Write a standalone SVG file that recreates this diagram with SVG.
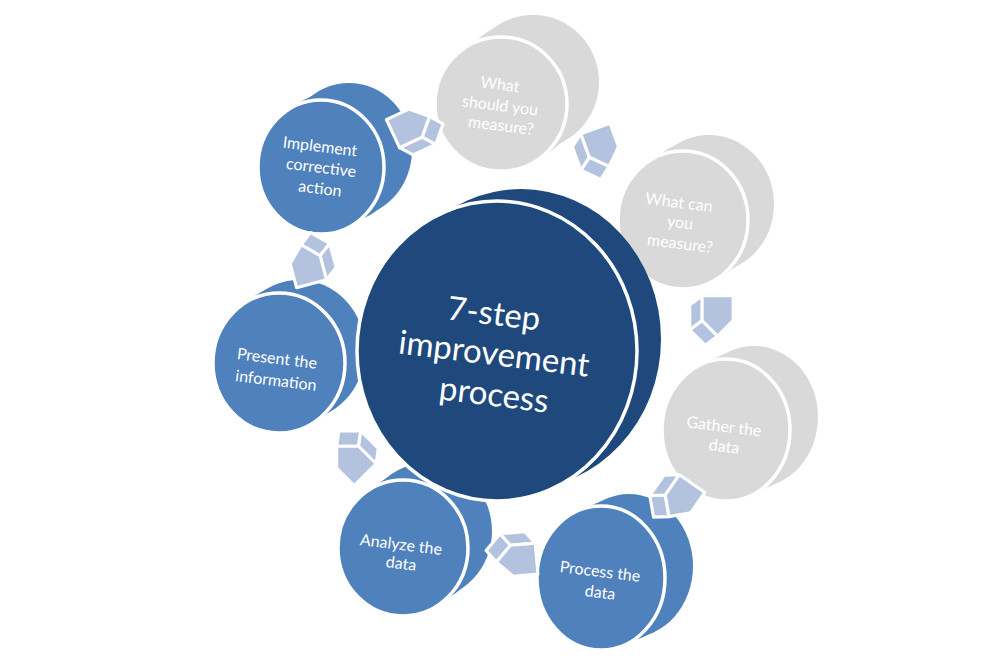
<svg xmlns="http://www.w3.org/2000/svg" xmlns:xlink="http://www.w3.org/1999/xlink" width="1000" height="669" viewBox="0 0 1000 669">
<style>
.blue{fill:#4F81BD}
.gray{fill:#D9D9D9}
.dark{fill:#1F497D}
.front{stroke:#FFFFFF;stroke-width:3.5}
.t{font-family:Lato,"Open Sans",sans-serif;fill:#FFFFFF;text-anchor:middle}
.s{font-size:16px}
.b{font-size:33px}
.af{fill:#B3C2DE;stroke:#FFFFFF;stroke-width:2;stroke-linejoin:round}
</style>
<defs>
<g id="arr" transform="translate(-3,1)">
<polygon class="af" points="0,-12 8,-18 18,-8 10,-2"/>
<polygon class="af" points="10,-2 18,-8 18,8 10,14"/>
<polygon class="af" points="-10,14 -10,-2 0,-12 10,-2 10,14"/>
</g>
</defs>
<rect width="1000" height="669" fill="#FFFFFF"/>

<g id="n1" class="gray">
<ellipse cx="533" cy="82" rx="66" ry="67"/>
<ellipse cx="522" cy="89" rx="66" ry="67"/>
<ellipse cx="512" cy="97" rx="66" ry="67"/>
<ellipse class="front" cx="501" cy="104" rx="66" ry="67"/>
<text class="t s" x="500" y="90" transform="rotate(7 500 85)">What</text>
<text class="t s" x="500" y="111" transform="rotate(7 500 106)">should you</text>
<text class="t s" x="501" y="131" transform="rotate(7 501 126)">measure?</text>
</g>

<g id="n2" class="gray">
<ellipse cx="709" cy="204" rx="65" ry="69"/>
<ellipse cx="700" cy="209" rx="65" ry="69"/>
<ellipse cx="692" cy="215" rx="65" ry="69"/>
<ellipse class="front" cx="683" cy="220" rx="65" ry="69"/>
<text class="t s" x="679" y="208" transform="rotate(7 679 203)">What can</text>
<text class="t s" x="680" y="228" transform="rotate(7 680 223)">you</text>
<text class="t s" x="680" y="249" transform="rotate(7 680 244)">measure?</text>
</g>

<g id="n3" class="gray">
<ellipse cx="754" cy="417" rx="64" ry="71"/>
<ellipse cx="745" cy="421" rx="64" ry="71"/>
<ellipse cx="735" cy="426" rx="64" ry="71"/>
<ellipse class="front" cx="726" cy="430" rx="64" ry="71"/>
<text class="t s" x="724" y="432" transform="rotate(7 724 427)">Gather the</text>
<text class="t s" x="724" y="452" transform="rotate(7 724 447)">data</text>
</g>

<g id="n4" class="blue">
<ellipse cx="629" cy="566" rx="64" ry="72"/>
<ellipse cx="620" cy="570" rx="64" ry="72"/>
<ellipse cx="610" cy="574" rx="64" ry="72"/>
<ellipse class="front" cx="601" cy="578" rx="64" ry="72"/>
<text class="t s" x="600" y="577" transform="rotate(7 600 572)">Process the</text>
<text class="t s" x="600" y="598" transform="rotate(7 600 593)">data</text>
</g>

<g id="n5" class="blue">
<ellipse cx="427" cy="531" rx="65" ry="68"/>
<ellipse cx="419" cy="537" rx="65" ry="68"/>
<ellipse cx="411" cy="542" rx="65" ry="68"/>
<ellipse class="front" cx="403" cy="548" rx="65" ry="68"/>
<text class="t s" x="401" y="550" transform="rotate(7 401 545)">Analyze the</text>
<text class="t s" x="401" y="569" transform="rotate(7 401 564)">data</text>
</g>

<g id="n6" class="blue">
<ellipse cx="299" cy="350" rx="66" ry="70"/>
<ellipse cx="292" cy="354" rx="66" ry="70"/>
<ellipse cx="286" cy="359" rx="66" ry="70"/>
<ellipse class="front" cx="279" cy="363" rx="66" ry="70"/>
<text class="t s" x="277" y="364" transform="rotate(7 277 359)">Present the</text>
<text class="t s" x="276" y="386" transform="rotate(7 276 381)">information</text>
</g>

<g id="n7" class="blue">
<ellipse cx="349" cy="150" rx="63" ry="67"/>
<ellipse cx="340" cy="156" rx="63" ry="67"/>
<ellipse cx="330" cy="161" rx="63" ry="67"/>
<ellipse class="front" cx="321" cy="167" rx="63" ry="67"/>
<text class="t s" x="320" y="152" transform="rotate(7 320 147)">Implement</text>
<text class="t s" x="321" y="173" transform="rotate(7 321 168)">corrective</text>
<text class="t s" x="320" y="194" transform="rotate(7 320 189)">action</text>
</g>

<g id="center" class="dark">
<ellipse cx="521" cy="339" rx="140" ry="150"/>
<ellipse cx="513" cy="343" rx="140" ry="150"/>
<ellipse cx="505" cy="347" rx="140" ry="150"/>
<ellipse class="front" cx="497" cy="351" rx="140" ry="150"/>
<text class="t b" x="494" y="325" transform="rotate(7 494 314)">7-step</text>
<text class="t b" x="494" y="365" transform="rotate(7 494 354)">improvement</text>
<text class="t b" x="494" y="406" transform="rotate(7 494 395)">process</text>
</g>

<g id="connectors">
<use xlink:href="#arr" transform="translate(416,128) rotate(65) scale(1.55)"/>
<use xlink:href="#arr" transform="translate(599,152) rotate(160) scale(1.55)"/>
<use xlink:href="#arr" transform="translate(713,319) rotate(180) scale(1.55)"/>
<use xlink:href="#arr" transform="translate(675,500) rotate(215) scale(1.55)"/>
<use xlink:href="#arr" transform="translate(513,556) rotate(265) scale(1.55)"/>
<use xlink:href="#arr" transform="translate(352,455) rotate(315) scale(1.55)"/>
<use xlink:href="#arr" transform="translate(310,260) rotate(345) scale(1.55)"/>
</g>
</svg>
